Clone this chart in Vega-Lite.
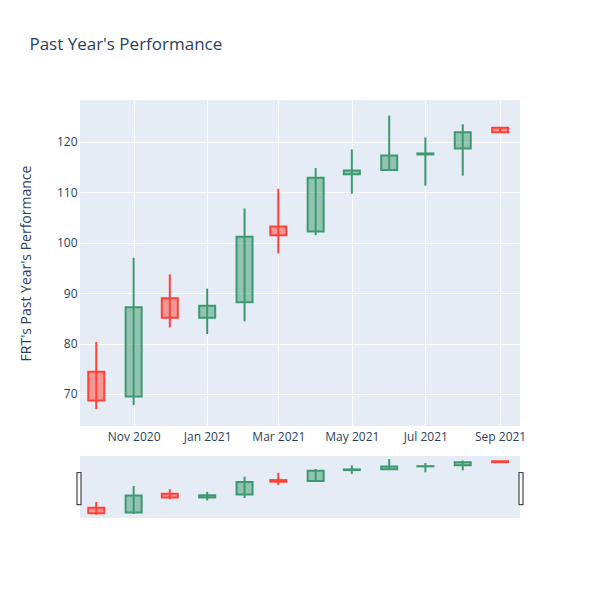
{
  "$schema": "https://vega.github.io/schema/vega-lite/v6.json",
  "background": "white",
  "padding": {"left": 19, "top": 36, "right": 10, "bottom": 10},
  "title": {"text": "Past Year's Performance", "anchor": "start", "font": "Open Sans", "fontSize": 17, "fontWeight": "normal", "color": "#2a3f5f", "offset": 46, "dx": 10},
  "data": {"values": [
    {"date": "2020-10-01", "open": 74.4, "high": 80.3, "low": 67.0, "close": 68.7},
    {"date": "2020-11-01", "open": 69.5, "high": 97.0, "low": 67.8, "close": 87.2},
    {"date": "2020-12-01", "open": 89.0, "high": 93.7, "low": 83.2, "close": 85.1},
    {"date": "2021-01-01", "open": 85.1, "high": 90.9, "low": 81.9, "close": 87.5},
    {"date": "2021-02-01", "open": 88.2, "high": 106.8, "low": 84.4, "close": 101.2},
    {"date": "2021-03-01", "open": 103.2, "high": 110.7, "low": 97.9, "close": 101.5},
    {"date": "2021-04-01", "open": 102.2, "high": 114.8, "low": 101.5, "close": 112.9},
    {"date": "2021-05-01", "open": 113.6, "high": 118.5, "low": 109.7, "close": 114.3},
    {"date": "2021-06-01", "open": 114.4, "high": 125.2, "low": 114.4, "close": 117.3},
    {"date": "2021-07-01", "open": 117.5, "high": 120.9, "low": 111.3, "close": 117.7},
    {"date": "2021-08-01", "open": 118.7, "high": 123.5, "low": 113.3, "close": 121.9},
    {"date": "2021-09-01", "open": 122.8, "high": 122.8, "low": 121.9, "close": 121.9}
  ]},
  "spacing": 14,
  "vconcat": [
    {
      "width": 440,
      "height": 326,
      "encoding": {
        "x": {"field": "date", "type": "temporal", "title": null,
          "scale": {"type": "utc", "padding": 0, "nice": false, "domain": [{"year": 2020, "month": 9, "date": 17, "hours": 12, "utc": true}, {"year": 2021, "month": 9, "date": 17, "hours": 12, "utc": true}]},
          "axis": {"format": "%b %Y", "tickCount": {"interval": "month", "step": 2}, "labelPadding": 5}},
        "color": {"condition": {"test": "datum.close >= datum.open", "value": "#3D9970"}, "value": "#FF4136"}
      },
      "layer": [
        {
          "mark": {"type": "rule", "strokeWidth": 2},
          "encoding": {
            "y": {"field": "low", "type": "quantitative", "title": "FRT's Past Year's Performance",
              "scale": {"domain": [63.65, 128.3], "nice": false, "zero": false},
              "axis": {"values": [70, 80, 90, 100, 110, 120], "labelPadding": 3, "titlePadding": 23}},
            "y2": {"field": "high"}
          }
        },
        {
          "mark": {"type": "bar", "width": 16, "strokeWidth": 2, "fillOpacity": 0.5, "strokeOpacity": 1},
          "encoding": {
            "y": {"field": "open", "type": "quantitative"},
            "y2": {"field": "close"},
            "stroke": {"condition": {"test": "datum.close >= datum.open", "value": "#3D9970"}, "value": "#FF4136"}
          }
        }
      ]
    },
    {
      "width": 440,
      "height": 62,
      "layer": [
        {
          "mark": {"type": "rule", "strokeWidth": 2},
          "encoding": {
            "x": {"field": "date", "type": "temporal", "axis": null,
              "scale": {"type": "utc", "padding": 0, "nice": false, "domain": [{"year": 2020, "month": 9, "date": 17, "hours": 12, "utc": true}, {"year": 2021, "month": 9, "date": 17, "hours": 12, "utc": true}]}},
            "y": {"field": "low", "type": "quantitative", "axis": null, "scale": {"domain": [63.65, 128.3], "nice": false, "zero": false}},
            "y2": {"field": "high"},
            "color": {"condition": {"test": "datum.close >= datum.open", "value": "#3D9970"}, "value": "#FF4136"}
          }
        },
        {
          "mark": {"type": "bar", "width": 16, "strokeWidth": 2, "fillOpacity": 0.5},
          "encoding": {
            "x": {"field": "date", "type": "temporal"},
            "y": {"field": "open", "type": "quantitative"},
            "y2": {"field": "close"},
            "color": {"condition": {"test": "datum.close >= datum.open", "value": "#3D9970"}, "value": "#FF4136"},
            "stroke": {"condition": {"test": "datum.close >= datum.open", "value": "#3D9970"}, "value": "#FF4136"}
          }
        },
        {
          "data": {"values": [{"side": "left"}]},
          "mark": {"type": "bar", "width": 4, "fill": "white", "stroke": "#444444", "strokeWidth": 1.2, "clip": false, "xOffset": -1},
          "encoding": {
            "x": {"datum": {"year": 2020, "month": 9, "date": 17, "hours": 12, "utc": true}, "type": "temporal"},
            "y": {"datum": 77.5},
            "y2": {"datum": 111.1}
          }
        },
        {
          "data": {"values": [{"side": "right"}]},
          "mark": {"type": "bar", "width": 4, "fill": "white", "stroke": "#444444", "strokeWidth": 1.2, "clip": false, "xOffset": 1},
          "encoding": {
            "x": {"datum": {"year": 2021, "month": 9, "date": 17, "hours": 12, "utc": true}, "type": "temporal"},
            "y": {"datum": 77.5},
            "y2": {"datum": 111.1}
          }
        }
      ]
    }
  ],
  "config": {
    "view": {"fill": "#e5ecf6", "stroke": null},
    "axis": {"labelFont": "Open Sans", "labelFontSize": 12, "labelColor": "#2a3f5f", "gridColor": "white", "gridWidth": 1, "domain": false, "ticks": false,
      "titleFont": "Open Sans", "titleFontSize": 14, "titleColor": "#2a3f5f", "titleFontWeight": "normal"}
  }
}
